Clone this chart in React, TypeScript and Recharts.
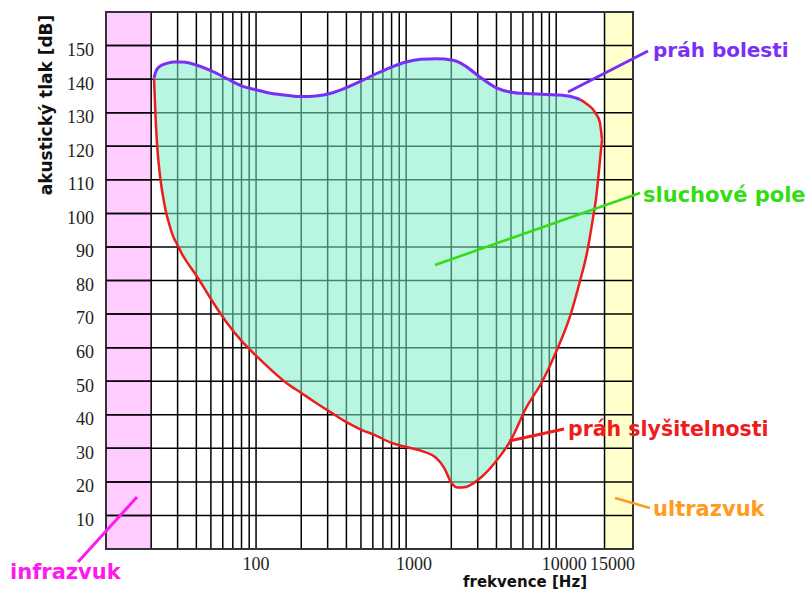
import React from "react";
import {
  ComposedChart,
  Area,
  Line,
  XAxis,
  YAxis,
  CartesianGrid,
  ReferenceArea,
} from "recharts";

// frekvence [Hz]
const frequencies = [
  20.9, 21.3, 21.9, 23, 24, 25, 26, 28, 30, 32, 36, 40, 50, 63, 80, 100, 125,
  160, 200, 250, 315, 400, 500, 630, 800, 1000, 1250, 1600, 1800, 2000, 2200,
  2500, 3150, 4000, 5000, 6300, 8000, 10000, 12500, 14500, 16000, 17500, 18500,
  19500, 20200,
];

// práh bolesti (purple) [dB]
const painThreshold = [
  140.4, 141.8, 143.0, 143.9, 144.3, 144.6, 144.8, 145.1, 145.1, 145.1, 144.8,
  144.2, 142.5, 140.3, 138.0, 136.8, 135.8, 135.2, 134.8, 135.0, 135.8, 137.5,
  139.4, 141.6, 143.6, 145.1, 145.9, 146.1, 146.0, 145.7, 145.2, 143.8, 140.4,
  137.4, 136.1, 135.7, 135.5, 135.3, 134.8, 133.9, null, null, null, null, null,
];

// red upper-right edge of the field, where the purple line stops
const fieldEdge = [
  null, null, null, null, null, null, null, null, null, null, null, null, null,
  null, null, null, null, null, null, null, null, null, null, null, null, null,
  null, null, null, null, null, null, null, null, null, null, null, null, null,
  133.9, 132.6, 131.1, 129.5, 127.3, 122.0,
];

// práh slyšitelnosti (red) [dB]
const hearingThreshold = [
  140.2, 130.5, 120.5, 110.5, 105.0, 100.8, 97.8, 93.2, 90.5, 88.0, 84.4, 81.5,
  74.5, 67.8, 62.0, 57.6, 53.5, 49.4, 46.5, 43.6, 40.7, 37.8, 35.6, 33.8, 31.6,
  30.4, 29.3, 27.0, 24.0, 19.8, 18.3, 18.5, 21.3, 26.3, 32.5, 42.0, 49.6, 58.8,
  70.0, 80.3, 88.0, 98.0, 105.0, 115.0, 122.0,
];

// vertical grid lines (10 Hz is the left edge)
const gridFrequencies = [
  10, 20, 30, 40, 50, 60, 70, 80, 90, 100, 200, 300, 400, 500, 600, 700, 800,
  900, 1000, 2000, 3000, 4000, 5000, 6000, 7000, 8000, 9000, 10000, 21000,
];
const xTickLabels = [
  { f: 100, text: "100" },
  { f: 1000, text: "1000" },
  { f: 10000, text: "10000" },
  { f: 21000, text: "15000" },
];
const dbTicks = [10, 20, 30, 40, 50, 60, 70, 80, 90, 100, 110, 120, 130, 140, 150];

const F_MIN = 10;
const F_MAX = 32500;
const INFRA_END = 20; // infrazvuk below this
const ULTRA_START = 21000; // ultrazvuk band starts at the "15000" line
const DB_MAX = 160;

// chart geometry, shared by the chart and the overlay
const W = 809;
const H = 593;
const Y_AXIS_W = 106;
const X_AXIS_H = 44;
const MARGIN = { top: 12, right: 176, bottom: 0, left: 0 };
const PLOT_LEFT = MARGIN.left + Y_AXIS_W;
const PLOT_RIGHT = W - MARGIN.right;
const PLOT_TOP = MARGIN.top;
const PLOT_BOTTOM = H - MARGIN.bottom - X_AXIS_H;

// same mapping as the chart's log x / linear y scales (for the overlay grid)
const xOf = (f: number) =>
  PLOT_LEFT +
  ((PLOT_RIGHT - PLOT_LEFT) * Math.log10(f / F_MIN)) / Math.log10(F_MAX / F_MIN);
const yOf = (db: number) =>
  PLOT_TOP + ((DB_MAX - db) / DB_MAX) * (PLOT_BOTTOM - PLOT_TOP);

const rows = frequencies.map((f, i) => ({
  f,
  pain: painThreshold[i],
  edge: fieldEdge[i],
  hear: hearingThreshold[i],
}));

// one stripe per grid line, starting at it; saturated colour at low opacity
// gives the pale band and keeps the black grid visible through it
const stripeFill = gridFrequencies.map((f) =>
  f < INFRA_END ? "#ff00ff" : f >= ULTRA_START ? "#ffff00" : "none"
);

const PURPLE = "#7b2ff5";
const RED = "#ee1c1c";
const GREEN = "#33dd11";
const ORANGE = "#ff9b21";
const MAGENTA = "#ff19ef";
const BOLD = { fontFamily: "'DejaVu Sans', sans-serif", fontWeight: 700 };

const XTick = (props: any) => {
  const { x, y, payload } = props;
  const item = xTickLabels.find((t) => t.f === payload.value);
  if (!item) return <g />;
  return (
    <text
      x={x + (item.text.length > 3 ? 8 : 0)}
      y={y}
      dy="0.71em"
      textAnchor="middle"
      fontFamily="'Liberation Serif', serif"
      fontSize={18}
      fill="#222"
    >
      {item.text}
    </text>
  );
};

const YTick = (props: any) => {
  const { x, y, payload } = props;
  return (
    <text
      x={x - 4}
      y={y + 4}
      dy="0.355em"
      textAnchor="end"
      fontFamily="'Liberation Serif', serif"
      fontSize={18}
      fill="#222"
    >
      {payload.value}
    </text>
  );
};

export default function App() {
  return (
    <div style={{ position: "absolute", left: 0, top: 0, width: W, height: H }}>
      <ComposedChart width={W} height={H} data={rows} margin={MARGIN}>
        <CartesianGrid
          stroke="#000"
          strokeWidth={1.5}
          verticalFill={stripeFill}
          fillOpacity={0.2}
        />
        <XAxis
          dataKey="f"
          type="number"
          scale="log"
          domain={[F_MIN, F_MAX]}
          ticks={gridFrequencies}
          interval={0}
          allowDataOverflow
          tick={<XTick />}
          tickLine={false}
          axisLine={false}
          height={X_AXIS_H}
        />
        <YAxis
          type="number"
          domain={[0, DB_MAX]}
          ticks={dbTicks}
          interval={0}
          tick={<YTick />}
          tickLine={false}
          axisLine={false}
          width={Y_AXIS_W}
        />
        <Area
          type="monotone"
          dataKey={(r: any) => [r.hear, r.pain ?? r.edge]}
          fill="#7deec8"
          fillOpacity={0.55}
          stroke="none"
          isAnimationActive={false}
        />
        <Line type="monotone" dataKey="pain" stroke={PURPLE} strokeWidth={3} dot={false} isAnimationActive={false} />
        <Line type="monotone" dataKey="edge" stroke={RED} strokeWidth={2.5} dot={false} isAnimationActive={false} />
        <Line type="monotone" dataKey="hear" stroke={RED} strokeWidth={2.5} dot={false} isAnimationActive={false} />
        <ReferenceArea
          x1={F_MIN}
          x2={F_MAX}
          y1={0}
          y2={DB_MAX}
          fill="none"
          stroke="#333"
          strokeWidth={2}
        />
      </ComposedChart>
      <svg
        width={W}
        height={H}
        style={{ position: "absolute", left: 0, top: 0, pointerEvents: "none" }}
      >
        {/* grid across the infrazvuk band */}
        {dbTicks.map((v) => (
          <line
            key={v}
            x1={xOf(F_MIN)}
            x2={xOf(INFRA_END)}
            y1={yOf(v)}
            y2={yOf(v)}
            stroke="#000"
            strokeWidth={1.5}
          />
        ))}

        <text x={52} y={105} textAnchor="middle" fontSize={17} fill="#111" style={BOLD} transform="rotate(-90 52 105)">
          akustický tlak [dB]
        </text>
        <text x={525} y={587} textAnchor="middle" fontSize={15} fill="#111" style={BOLD}>
          frekvence [Hz]
        </text>

        <line x1={568} y1={92} x2={648} y2={51} stroke={PURPLE} strokeWidth={3} />
        <text x={653} y={57} fontSize={20} fill={PURPLE} style={BOLD}>práh bolesti</text>

        <line x1={435} y1={265} x2={640} y2={193} stroke={GREEN} strokeWidth={2.5} />
        <text x={643} y={202} fontSize={21} fill={GREEN} style={BOLD}>sluchové pole</text>

        <line x1={509} y1={441} x2={564} y2={429} stroke={RED} strokeWidth={3} />
        <text x={568} y={436} fontSize={20.5} fill={RED} style={BOLD}>práh slyšitelnosti</text>

        <line x1={615} y1={498} x2={650} y2={508} stroke={ORANGE} strokeWidth={2.5} />
        <text x={653} y={516} fontSize={21} fill={ORANGE} style={BOLD}>ultrazvuk</text>

        <line x1={137} y1={497} x2={78} y2={562} stroke={MAGENTA} strokeWidth={3} />
        <text x={10} y={579} fontSize={21} fill={MAGENTA} style={BOLD}>infrazvuk</text>
      </svg>
    </div>
  );
}
